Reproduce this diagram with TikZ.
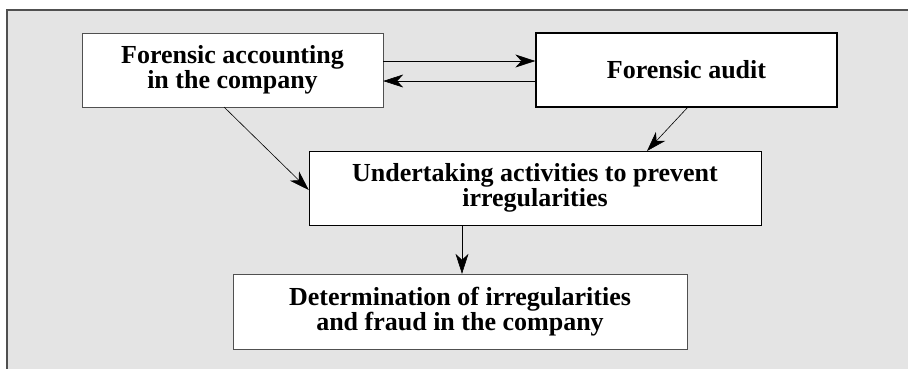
\documentclass[tikz,border=0pt]{standalone}
\usepackage{fontspec}
\setmainfont{Liberation Serif}
\usetikzlibrary{arrows.meta}
\definecolor{panel}{HTML}{E4E4E4}
\definecolor{edge}{HTML}{505050}
\tikzstyle{block} = [rectangle, draw=edge, fill=white, align=center, inner sep=0pt,
  font=\fontsize{26}{25}\selectfont\bfseries, minimum height=74pt]
\tikzstyle{arrow} = [semithick,-{Stealth[length=20pt,width=13pt,inset=6pt]}]

\begin{document}
\begin{tikzpicture}[x=1pt,y=-1pt]
\useasboundingbox (0,0) rectangle (908,368);
\begin{scope}
\clip (0,0) rectangle (908,368);
\draw[edge,line width=1.2pt,fill=panel] (7,10) rectangle (920,380);
\end{scope}

\node[block,minimum width=301pt] (acc) at (232.5,70) {Forensic accounting\\in the company};
\node[block,minimum width=301pt,draw=black,line width=1.3pt] (aud) at (686.5,70) {Forensic audit};
\node[block,minimum width=452pt,draw=black] (prev) at (535,188) {Undertaking activities to prevent\\irregularities};
\node[block,minimum width=454pt,minimum height=75pt] (det) at (460,311.5) {Determination of irregularities\\and fraud in the company};

\draw[arrow] (acc.east|-0,61) -- (aud.west|-0,61);
\draw[arrow] (aud.west|-0,81) -- (acc.east|-0,81);
\draw[arrow] (224,107) -- (prev.west|-0,190);
\draw[arrow] (688,107) -- (647,151);
\draw[arrow] (prev.south-|462,0) -- (det.north-|462,0);
\end{tikzpicture}
\end{document}
